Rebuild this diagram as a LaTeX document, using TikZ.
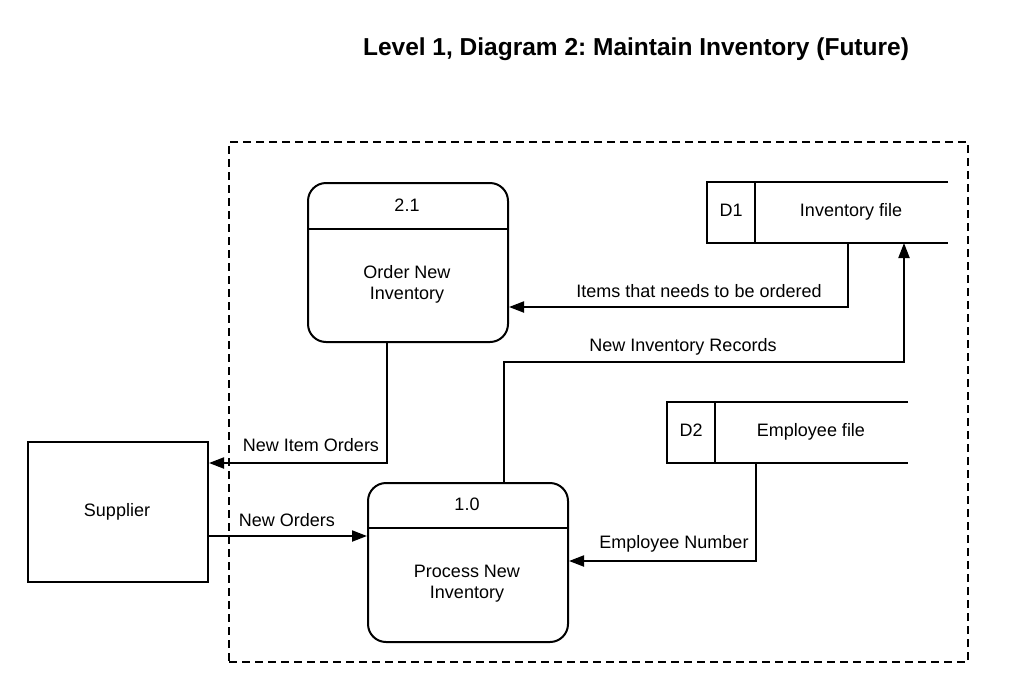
\documentclass[tikz,border=0pt]{standalone}
\usepackage{fontspec}
\setmainfont{Liberation Sans}
\usetikzlibrary{arrows.meta}
\frenchspacing
\begin{document}
\begin{tikzpicture}[x=1pt,y=-1pt,line width=2pt,
  lbl/.style={font=\fontsize{18}{21}\selectfont, inner sep=0pt, align=center},
  lbl1/.style={lbl, text height=12.9pt, text depth=3.8pt, yshift=-1.5pt},
  proc/.style={draw, rounded corners=18pt, minimum width=200pt, minimum height=159pt, inner sep=0pt, anchor=north west},
  store/.style={inner sep=0pt, minimum width=239pt, minimum height=59pt, anchor=north west},
  ent/.style={draw, inner sep=0pt, minimum width=180pt, minimum height=140pt, anchor=north west},
  arr/.style={-{Triangle[length=15pt,width=11pt]}},
  sysbound/.style={draw, dash pattern=on 8pt off 5pt, inner sep=0pt, minimum width=739pt, minimum height=520pt, anchor=north west}]
\useasboundingbox[fill=white] (0,0) rectangle (1011,691);

\node[font=\bfseries\fontsize{24.5}{28}\selectfont] (title) at (636,49) {Level 1, Diagram 2: Maintain Inventory (Future)};

\node[sysbound] (sys) at (228,141) {};

% processes
\node[proc] (p21) at (307,182) {};
\draw (p21.west |- 0,229) -- (p21.east |- 0,229);
\node[lbl1] (p21id) at (407,205) {2.1};
\node[lbl] (p21name) at (407,284) {Order New\\Inventory};

\node[proc] (p10) at (367,482) {};
\draw (p10.west |- 0,528) -- (p10.east |- 0,528);
\node[lbl1] (p10id) at (467,504) {1.0};
\node[lbl] (p10name) at (467,584) {Process New\\Inventory};

% data stores
\node[store] (d1) at (707,182) {};
\draw (d1.north east) -- (d1.north west) -- (d1.south west) -- (d1.south east);
\draw ([xshift=48pt]d1.north west) -- ([xshift=48pt]d1.south west);
\node[lbl1] (d1id) at (731,210) {D1};
\node[lbl1] (d1name) at (851,210) {Inventory file};

\node[store] (d2) at (667,402) {};
\draw (d2.north east) -- (d2.north west) -- (d2.south west) -- (d2.south east);
\draw ([xshift=48pt]d2.north west) -- ([xshift=48pt]d2.south west);
\node[lbl1] (d2id) at (691,430) {D2};
\node[lbl1] (d2name) at (811,430) {Employee file};

% external entity
\node[ent] (sup) at (27,441) {};
\node[lbl1] (supname) at (117,510) {Supplier};

% flows
\draw[arr] (d1.south -| 848,0) |- (p21.east |- 0,307);
\node[lbl1] (f1) at (699,291) {Items that needs to be ordered};

\draw[arr] (p10.north -| 504,0) |- (904,362) -- (d1.south -| 904,0);
\node[lbl1] (f2) at (683,345) {New Inventory Records};

\draw[arr] (p21.south -| 387,0) |- (sup.east |- 0,463);
\node[lbl1] (f3) at (311,445) {New Item Orders};

\draw[arr] (sup.east |- 0,536) -- (p10.west |- 0,536);
\node[lbl1] (f4) at (287,520) {New Orders};

\draw[arr] (d2.south -| 756,0) |- (p10.east |- 0,561);
\node[lbl1] (f5) at (674,542) {Employee Number};
\end{tikzpicture}
\end{document}
